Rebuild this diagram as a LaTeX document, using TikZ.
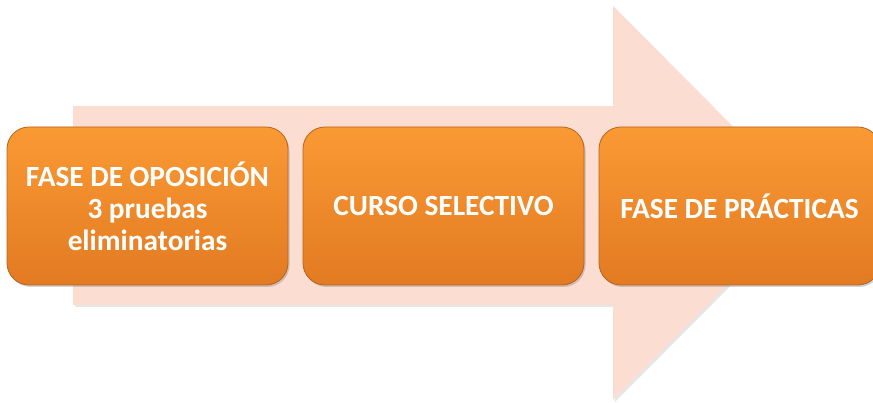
\documentclass[tikz,border=0pt]{standalone}
\usepackage{fontspec}
\setmainfont{Carlito}
\usepackage{xcolor}
\usetikzlibrary{positioning,shadows}

\definecolor{arrowpink}{RGB}{251,221,209}
\definecolor{boxtop}{RGB}{250,154,52}
\definecolor{boxbottom}{RGB}{226,122,34}
\definecolor{boxedge}{RGB}{184,100,30}

\tikzset{
    fase/.style={rectangle, rounded corners=22pt, draw=boxedge, line width=0.8pt,
        top color=boxtop, bottom color=boxbottom,
        minimum width=281pt, minimum height=158pt, outer sep=0pt,
        align=center, text=white, font=\fontsize{29.3}{32}\selectfont\bfseries,
        drop shadow={shadow xshift=1.5pt, shadow yshift=-2pt, opacity=0.35}},
}

\begin{document}
\begin{tikzpicture}[x=1pt, y=-1pt, node distance=15pt]
    \useasboundingbox (0,0) rectangle (873,403);
    % big arrow behind the boxes
    \fill[arrowpink, drop shadow={shadow xshift=2pt, shadow yshift=-2pt, opacity=0.2}]
        (73,106) -- (613,106) -- (613,6) -- (809,203) -- (613,400) -- (613,305) -- (73,305) -- cycle;
    \node[fase] (opos) at (147.5,206) {FASE DE OPOSICIÓN\\3 pruebas\\eliminatorias};
    \node[fase] (curso) [right=of opos] {CURSO SELECTIVO};
    \node[fase] (practicas) [right=of curso] {FASE DE PRÁCTICAS};
\end{tikzpicture}
\end{document}
